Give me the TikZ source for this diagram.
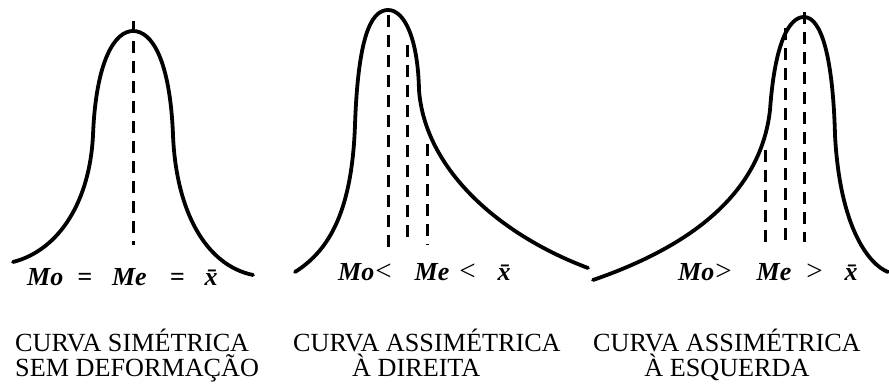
\documentclass[tikz,border=0pt]{standalone}
\usepackage{fontspec}
\setmainfont{Liberation Serif}
\newcommand{\relsym}[1]{{\fontsize{29}{26}\selectfont\upshape\mdseries #1}}
\begin{document}
\begin{tikzpicture}[x=1pt,y=-1pt,
  curve/.style={line width=3.8pt,line cap=round},
  guide/.style={line width=3pt,dash pattern=on 12pt off 8pt},
  rel/.style={font=\fontsize{26}{26}\selectfont\bfseries\itshape,inner sep=0pt,anchor=base west},
  caption/.style={font=\fontsize{26.2}{25}\selectfont,inner sep=0pt,anchor=north west}]
\useasboundingbox (0,0) rectangle (889,385);
% symmetric curve
\draw[curve] (13,262) .. controls (60,250) and (90,200) .. (93,135)
  .. controls (96,60) and (115,31) .. (133,31)
  .. controls (152,31) and (170,60) .. (173,135)
  .. controls (176,210) and (205,265) .. (253,275);
\draw[guide] (133,21) -- (133,245);
% right-skewed curve
\draw[curve] (295,272) .. controls (330,250) and (352,210) .. (355,125)
  .. controls (358,40) and (370,10) .. (388,10)
  .. controls (405,10) and (418,40) .. (419,90)
  .. controls (425,170) and (500,235) .. (588,268);
\draw[guide] (388,15) -- (388,252);
\draw[guide] (407,45) -- (407,240);
\draw[guide] (427,144) -- (427,245);
% left-skewed curve
\draw[curve] (593,280) .. controls (680,250) and (760,200) .. (770,110)
  .. controls (775,40) and (790,17) .. (804,17)
  .. controls (822,17) and (833,60) .. (835,135)
  .. controls (840,230) and (870,265) .. (888,272);
\draw[guide] (804,12) -- (804,242);
\draw[guide] (785,28) -- (785,242);
\draw[guide] (765,150) -- (765,242);
% relations
\node[rel] (r1) at (27,285) {Mo\hspace{14pt}=\hspace{20pt}Me\hspace{23pt}=\hspace{20pt}\=x};
\node[rel] (r2) at (338,280) {Mo\hspace{1pt}\relsym{<}\hspace{23pt}Me\hspace{10pt}\relsym{<}\hspace{22pt}\=x};
\node[rel] (r3) at (678,280) {Mo\hspace{1pt}\relsym{>}\hspace{25pt}Me\hspace{15pt}\relsym{>}\hspace{22pt}\=x};
% captions
\node[caption,align=left] (c1) at (15,329) {CURVA SIMÉTRICA\\SEM DEFORMAÇÃO};
\node[caption,align=left] (c2) at (293,329) {CURVA ASSIMÉTRICA\\\hspace*{59pt}À DIREITA};
\node[caption,align=center] (c3) at (593,329) {CURVA ASSIMÉTRICA\\À ESQUERDA};
\end{tikzpicture}
\end{document}
